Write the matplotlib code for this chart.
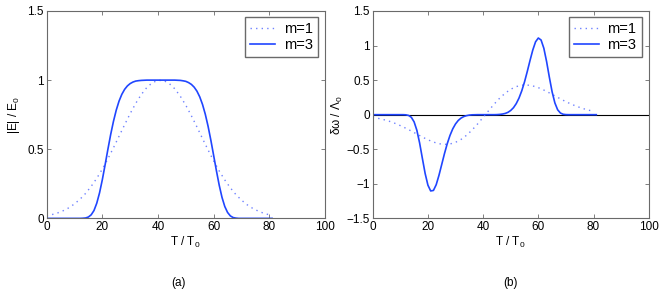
import matplotlib
matplotlib.use("Agg")
import matplotlib.pyplot as plt

# time grids (T / T0)
t_m1 = [0, 2, 4, 6, 8, 10, 12, 14, 16, 18, 20, 22, 24, 26, 28, 30, 32, 34, 36, 38, 40,
        42, 44, 46, 48, 50, 52, 54, 56, 58, 60, 62, 64, 66, 68, 70, 72, 74, 76, 78, 80]
t_m3 = list(range(0, 82))

# panel (a): |E| / E0
E_m1 = [0.019, 0.028, 0.04, 0.056, 0.077, 0.105, 0.139, 0.181, 0.232, 0.29, 0.357, 0.431, 0.511,
        0.594, 0.677, 0.758, 0.832, 0.896, 0.947, 0.982, 0.998, 0.997, 0.976, 0.938, 0.884, 0.818,
        0.742, 0.661, 0.577, 0.495, 0.416, 0.343, 0.278, 0.221, 0.172, 0.132, 0.099, 0.073, 0.053,
        0.037, 0.026]
E_m3 = [0, 0, 0, 0, 0, 0, 0, 0, 0, 0, 0, 0, 0, 0.001, 0.003, 0.01, 0.026, 0.057, 0.11, 0.185, 0.28,
        0.388, 0.5, 0.607, 0.702, 0.783, 0.848, 0.897, 0.933, 0.958, 0.975, 0.986, 0.993, 0.996,
        0.998, 0.999, 1, 1, 1, 1, 1, 1, 1, 1, 1, 1, 1, 0.999, 0.998, 0.995, 0.991, 0.982, 0.969,
        0.949, 0.92, 0.879, 0.824, 0.753, 0.666, 0.565, 0.455, 0.344, 0.24, 0.152, 0.086, 0.043,
        0.018, 0.006, 0.002, 0, 0, 0, 0, 0, 0, 0, 0, 0, 0, 0, 0, 0]

# panel (b): delta omega / Lambda0
W_m1 = [-0.038, -0.053, -0.072, -0.095, -0.124, -0.158, -0.196, -0.237, -0.281, -0.323, -0.363,
        -0.396, -0.42, -0.43, -0.424, -0.4, -0.358, -0.298, -0.222, -0.134, -0.039, 0.058, 0.153,
        0.239, 0.311, 0.368, 0.406, 0.427, 0.429, 0.416, 0.391, 0.356, 0.315, 0.272, 0.229, 0.188,
        0.151, 0.119, 0.091, 0.067, 0.05]
W_m3 = [0, 0, 0, 0, 0, 0, 0, 0, 0, 0, 0, 0, -0.002, -0.011, -0.038, -0.104, -0.226, -0.41, -0.633,
        -0.851, -1.019, -1.103, -1.096, -1.013, -0.878, -0.721, -0.563, -0.42, -0.3, -0.205, -0.134,
        -0.083, -0.049, -0.027, -0.014, -0.006, -0.002, -0.001, 0, 0, 0, 0, 0, 0, 0, 0.001, 0.004,
        0.009, 0.018, 0.034, 0.061, 0.101, 0.16, 0.24, 0.345, 0.474, 0.625, 0.785, 0.936, 1.054,
        1.109, 1.08, 0.961, 0.768, 0.541, 0.33, 0.17, 0.071, 0.024, 0.006, 0.001, 0, 0, 0, 0, 0, 0,
        0, 0, 0, 0, 0]

x_ticks = [0, 20, 40, 60, 80, 100]
ya_ticks = [0, 0.5, 1, 1.5]
ya_labels = ['0', '0.5', '1', '1.5']
yb_ticks = [-1.5, -1, -0.5, 0, 0.5, 1, 1.5]
yb_labels = ['\u22121.5', '\u22121', '\u22120.5', '0', '0.5', '1', '1.5']
series_labels = ['m=1', 'm=3']

plt.rcParams['font.family'] = ['Liberation Sans', 'DejaVu Sans']
plt.rcParams['mathtext.fontset'] = 'custom'
plt.rcParams['mathtext.rm'] = 'Liberation Sans'
plt.rcParams['mathtext.default'] = 'regular'

fig = plt.figure(figsize=(6.64, 2.92), dpi=100)
ax1 = fig.add_axes([0.0703, 0.2521, 0.4191, 0.7103])
ax2 = fig.add_axes([0.5613, 0.2521, 0.4157, 0.7103])

solid_c = '#2046ff'
dot_c = '#6f82ff'
for ax in (ax1, ax2):
    for sp in ax.spines.values():
        sp.set_color('#6a6a6a'); sp.set_linewidth(0.8)
    ax.tick_params(direction='in', top=True, right=True, length=3, width=0.6, color='#6a6a6a',
                   labelsize=8.5, pad=2)
    ax.set_xlim(0, 100)
    ax.set_xticks(x_ticks)
    ax.set_xlabel('T / T$_0$', fontsize=8.5, labelpad=1)

ax1.plot(t_m1, E_m1, linestyle=(0, (1, 3)), lw=1.0, color=dot_c, label=series_labels[0])
ax1.plot(t_m3, E_m3, '-', lw=1.2, color=solid_c, label=series_labels[1])
ax1.set_ylim(0, 1.5)
ax1.set_yticks(ya_ticks); ax1.set_yticklabels(ya_labels)
ax1.set_ylabel('|E| / E$_0$', fontsize=8.5, labelpad=4)

ax2.axhline(0, color='black', lw=0.8)
ax2.plot(t_m1, W_m1, linestyle=(0, (1, 3)), lw=1.0, color=dot_c, label=series_labels[0])
ax2.plot(t_m3, W_m3, '-', lw=1.2, color=solid_c, label=series_labels[1])
ax2.set_ylim(-1.5, 1.5)
ax2.set_yticks(yb_ticks); ax2.set_yticklabels(yb_labels)
ax2.set_ylabel('\u03b4\u03c9 / \u039b$_0$', fontsize=8.5, labelpad=1)

for ax in (ax1, ax2):
    leg = ax.legend(loc='upper right', bbox_to_anchor=(0.974, 0.9725), borderaxespad=0, fontsize=10.5,
                    handlelength=1.7, handletextpad=0.6, borderpad=0.35, labelspacing=0.15,
                    fancybox=False, framealpha=1)
    leg.get_frame().set_edgecolor('#6a6a6a'); leg.get_frame().set_linewidth(1.0)

fig.text(178/664, 1-283/292, '(a)', ha='center', va='center', fontsize=8.5)
fig.text(510/664, 1-283/292, '(b)', ha='center', va='center', fontsize=8.5)
fig.savefig('out.png', dpi=100)
